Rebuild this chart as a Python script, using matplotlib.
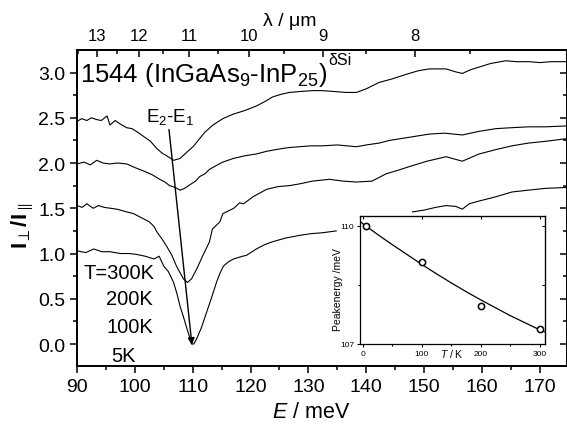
import matplotlib
matplotlib.use("Agg")
import matplotlib.pyplot as plt
import numpy as np
from matplotlib.ticker import MultipleLocator, FixedLocator

plt.rcParams["font.family"] = ["Liberation Sans", "DejaVu Sans"]
plt.rcParams["mathtext.fontset"] = "custom"
plt.rcParams["mathtext.rm"] = "Liberation Sans"
plt.rcParams["mathtext.it"] = "Liberation Sans:italic"
plt.rcParams["mathtext.bf"] = "Liberation Sans:bold"

# --- spectra (E in meV, ratio I_perp / I_par, curves offset) ---
e_300 = [90, 90.8, 91.7, 92.5, 93.4, 94.2, 95.2, 95.7, 96.6, 97.5, 98.6, 99.5,
         100.5, 101.6, 102.7, 103.8, 104.7, 105.5, 106.7, 107.8, 109, 110.2,
         111.2, 112.1, 113.5, 115.2, 117, 119, 121, 122.5, 123.8, 125.3, 126.7,
         128.5, 130.7, 132.4, 134.5, 136.5, 138.3, 140, 142.2, 144.5, 146.9,
         149, 150.9, 152.5, 153.8, 155.3, 156.6, 158, 159.5, 161.5, 164.1, 166,
         168.1, 170, 172, 174.7]
r_300 = [2.46, 2.49, 2.47, 2.50, 2.48, 2.47, 2.52, 2.42, 2.47, 2.43, 2.39, 2.38,
         2.34, 2.29, 2.24, 2.16, 2.11, 2.08, 2.03, 2.05, 2.12, 2.19, 2.27, 2.34,
         2.42, 2.49, 2.54, 2.58, 2.63, 2.68, 2.73, 2.76, 2.78, 2.79, 2.80, 2.80,
         2.79, 2.78, 2.78, 2.82, 2.89, 2.93, 2.98, 3.02, 3.04, 3.04, 3.04, 3.01,
         2.99, 3.03, 3.06, 3.10, 3.13, 3.12, 3.12, 3.11, 3.12, 3.12]

e_200 = [90, 91.2, 92.3, 93.4, 94.5, 95.7, 97, 98.6, 100, 101.6, 103, 104.3,
         105.2, 106, 107, 107.8, 108.6, 109.5, 110.5, 111.2, 112.1, 112.9, 114,
         115.2, 117, 119, 121, 122.8, 124.5, 126.5, 128.4, 130.5, 132.4, 135,
         138.3, 140, 142.2, 144, 147, 150.9, 153.5, 156.6, 159.5, 162.4, 165,
         168.1, 171, 174.7]
r_200 = [1.99, 2.01, 1.98, 2.03, 2.00, 1.99, 2.00, 1.99, 1.95, 1.91, 1.87, 1.82,
         1.79, 1.75, 1.73, 1.70, 1.72, 1.76, 1.80, 1.85, 1.88, 1.93, 1.97, 2.01,
         2.05, 2.08, 2.10, 2.13, 2.15, 2.17, 2.18, 2.19, 2.19, 2.20, 2.18, 2.20,
         2.22, 2.25, 2.28, 2.32, 2.33, 2.31, 2.35, 2.38, 2.39, 2.40, 2.40, 2.41]

e_100 = [90, 90.9, 91.7, 92.8, 93.7, 94.7, 95.8, 96.9, 98.6, 99.8, 100.7, 101.6,
         102.5, 103.3, 103.8, 104.7, 105.5, 106.4, 107.2, 107.8, 108.4, 109.1,
         109.8, 110.7, 111.7, 112.9, 113.4, 114.7, 115.2, 117.1, 118.1, 118.8,
         120.5, 122.8, 124.8, 126.7, 128.5, 130.7, 133.6, 136, 138.3, 141, 143.4,
         145.5, 147.9, 150.5, 153.8, 156.6, 159.5, 162.5, 165.2, 168, 171, 174.7]
r_100 = [1.53, 1.51, 1.55, 1.50, 1.53, 1.51, 1.50, 1.49, 1.46, 1.44, 1.41, 1.38,
         1.35, 1.30, 1.24, 1.16, 1.08, 0.98, 0.86, 0.79, 0.72, 0.68, 0.72, 0.83,
         0.97, 1.13, 1.27, 1.35, 1.44, 1.50, 1.56, 1.55, 1.63, 1.71, 1.74, 1.75,
         1.77, 1.80, 1.82, 1.80, 1.79, 1.80, 1.88, 1.92, 1.97, 2.02, 2.07, 2.02,
         2.10, 2.15, 2.19, 2.22, 2.24, 2.27]

e_5 = [90, 91.5, 92.9, 94.3, 95.7, 97.5, 99, 100.3, 101.8, 103.3, 104.2, 105,
       105.8, 106.7, 107.3, 107.8, 108.4, 109, 109.5, 109.8, 110.2, 110.7, 111.5,
       112.4, 113.3, 114.1, 114.7, 115.3, 116.2, 117.1, 118.6, 119.3, 121, 122.5,
       123.8, 126, 128.4, 130.5, 132.5, 134.8, np.nan, 148, 150, 152, 153.8,
       155.5, 156.6, 157.8, 159.5, 162, 165.2, 168, 171, 174.7]
r_5 = [1.03, 1.01, 1.05, 1.02, 1.02, 1.00, 1.00, 0.99, 0.97, 0.94, 0.97, 0.86,
       0.80, 0.68, 0.55, 0.42, 0.30, 0.17, 0.07, 0.00, 0.00, 0.06, 0.18, 0.35,
       0.52, 0.68, 0.78, 0.86, 0.91, 0.94, 0.97, 0.98, 1.05, 1.10, 1.13, 1.17,
       1.20, 1.22, 1.23, 1.25, np.nan, 1.46, 1.48, 1.51, 1.53, 1.52, 1.49, 1.55,
       1.58, 1.62, 1.68, 1.70, 1.72, 1.73]

temp_labels = ["T=300K", "200K", "100K", "5K"]

# top wavelength axis (um)
lam_ticks = [13, 12, 11, 10, 9, 8]
lam_minor = [13.5, 12.5, 11.5, 10.5, 9.5, 8.5, 7.5]
LAM_OFF, LAM_K = 5.6, 1142.0

# inset: peak energy vs temperature
t_pts = [5, 100, 200, 300]
ep_pts = [110.0, 109.08, 107.96, 107.38]
t_fit = [-5, 0, 25, 50, 75, 100, 125, 150, 175, 200, 225, 250, 275, 300, 308]
e_fit = [110.12, 110.05, 109.78, 109.52, 109.27, 109.02, 108.78, 108.55,
         108.33, 108.12, 107.92, 107.72, 107.54, 107.36, 107.31]

W, H = 567, 435
fig = plt.figure(figsize=(W / 100, H / 100), dpi=100)
ax = fig.add_axes([77 / W, 68 / H, 490 / W, 316 / H])

for e, r in [(e_300, r_300), (e_200, r_200), (e_100, r_100), (e_5, r_5)]:
    ax.plot(e, r, color="k", lw=0.8)

ax.set_xlim(90, 174.7)
ax.set_ylim(-0.243, 3.249)
ax.xaxis.set_major_locator(MultipleLocator(10))
ax.xaxis.set_minor_locator(MultipleLocator(5))
ax.yaxis.set_major_locator(MultipleLocator(0.5))
ax.yaxis.set_minor_locator(MultipleLocator(0.25))
ax.yaxis.set_major_formatter(plt.FormatStrFormatter("%.1f"))
ax.tick_params(which="major", direction="out", length=5, width=1.1,
               labelsize=14, top=False, right=False)
ax.tick_params(which="minor", direction="out", length=3, width=1.1,
               top=False, right=False)
for s in ax.spines.values():
    s.set_linewidth(1.4)

# right ticks (inward, no labels)
rax = ax.secondary_yaxis("right")
rax.yaxis.set_major_locator(MultipleLocator(0.5))
rax.yaxis.set_minor_locator(MultipleLocator(0.25))
rax.tick_params(which="major", direction="in", length=5, width=1.1, labelright=False)
rax.tick_params(which="minor", direction="in", length=3, width=1.1)
rax.spines["right"].set_linewidth(1.4)


def e_to_lam(e):
    with np.errstate(divide="ignore", invalid="ignore"):
        return LAM_K / (np.asarray(e, dtype=float) - LAM_OFF)


def lam_to_e(lam):
    with np.errstate(divide="ignore", invalid="ignore"):
        return LAM_OFF + LAM_K / np.asarray(lam, dtype=float)


tax = ax.secondary_xaxis("top", functions=(e_to_lam, lam_to_e))
tax.set_xticks(lam_ticks)
tax.xaxis.set_minor_locator(FixedLocator(lam_minor))
tax.tick_params(which="major", direction="in", length=5, width=1.1,
                labelsize=12, pad=5)
tax.tick_params(which="minor", direction="in", length=3, width=1.1)
tax.spines["top"].set_linewidth(1.4)

fig.text(290 / W, 1 - 21 / H, r"λ / μm", fontsize=14, ha="center", va="center")
fig.text(311 / W, 1 - 413 / H, r"$E$ / meV", fontsize=15.5, ha="center", va="center")
fig.text(23 / W, 1 - 226 / H, r"$\mathbf{I}_{\perp}\mathbf{/I}_{\parallel}$",
         fontsize=16, rotation=90, ha="center", va="center")

fig.text(80 / W, 1 - 82 / H, r"1544 (InGaAs$_9$-InP$_{25}$)",
         fontsize=18.5, ha="left", va="baseline")
fig.text(328 / W, 1 - 65 / H, "δSi", fontsize=11.5, ha="left", va="baseline")

ax.text(106.07, 2.46, r"E$_2$-E$_1$", fontsize=13.5, ha="center", va="baseline")
ax.annotate("", xy=(109.87, -0.01), xytext=(105.9, 2.37),
            arrowprops=dict(arrowstyle="-|>", color="k", lw=1.0,
                            mutation_scale=10, shrinkA=0, shrinkB=0))

for lab, x, y in zip(temp_labels, [97.26, 98.98, 99.16, 98.12],
                     [0.79, 0.50, 0.19, -0.125]):
    ax.text(x, y, lab, fontsize=14.5, ha="center", va="center")

# inset
ins = fig.add_axes([360 / W, 90 / H, 185 / W, 128 / H])
ins.plot(t_fit, e_fit, color="k", lw=0.9)
ins.plot(t_pts, ep_pts, "o", mfc="white", mec="k", ms=4.5, mew=1.1)
ins.set_xlim(-5, 309)
ins.set_ylim(107, 110.25)
ins.set_xticks([0, 100, 200, 300])
ins.xaxis.set_minor_locator(FixedLocator([50, 150, 250]))
ins.set_yticks([107, 110])
ins.yaxis.set_minor_locator(FixedLocator([108.5]))
ins.tick_params(which="major", direction="out", length=2.5, width=0.8,
                labelsize=6, pad=1.5)
ins.tick_params(which="minor", direction="out", length=1.5, width=0.8)
for s in ins.spines.values():
    s.set_linewidth(0.9)
itop = ins.secondary_xaxis("top")
itop.set_xticks([0, 100, 200, 300])
itop.tick_params(direction="in", length=2.5, width=0.8, labeltop=False)
iright = ins.secondary_yaxis("right")
iright.set_yticks([107, 108.5, 110])
iright.tick_params(direction="in", length=2.5, width=0.8, labelright=False)
ins.set_ylabel("Peakenergy /meV", fontsize=7.5)
ins.yaxis.set_label_coords(-0.092, 0.43)
fig.text(452 / W, 1 - 354 / H, r"$T$ / K", fontsize=7.5, ha="center", va="center")

fig.savefig("out.png", dpi=100)
